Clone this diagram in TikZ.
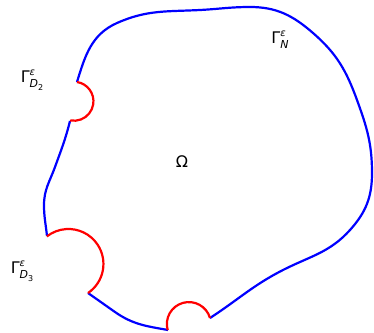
\documentclass[tikz,border=0pt]{standalone}
\usepackage{fontspec}
\setmainfont{DejaVu Sans}
\usepackage{tikz}

\newcommand{\gamlab}[2]{%
  \fontsize{16}{18}\selectfont Γ%
  \rlap{\raisebox{0.9ex}{\fontsize{10}{11}\selectfont\itshape ε}}%
  \raisebox{-0.55ex}{\fontsize{11}{12}\selectfont\itshape #1\raisebox{-0.45ex}{\fontsize{8}{9}\selectfont\upshape #2}}}

\begin{document}
\begin{tikzpicture}[x=1pt,y=-1pt,line width=2.2pt,line join=round]
\useasboundingbox (0,0) rectangle (374,332);

% end points of the holes
\coordinate (d2a) at (77,82);
\coordinate (d2b) at (70,121);
\coordinate (d3a) at (47,236);
\coordinate (d3b) at (88,293);
\coordinate (d1a) at (210,318);
\coordinate (d1b) at (168,330);

% Gamma_N
\draw[blue] (d2a) to[out=73,in=-156] (117,23) to[out=24,in=-177] (200,10)
  to[out=3,in=180] (250,7) to[out=0,in=139] (313,33)
  to[out=-41,in=110] (357,100) to[out=-70,in=90] (372,173)
  to[out=-90,in=48] (350,230) to[out=-132,in=27] (283,270)
  to[out=-153,in=33] (d1a);

\draw[blue] (d1b) to[out=-190,in=-35] (115,312) to[out=-215,in=-35] (d3b);

\draw[blue] (d3a) to[out=96,in=-90] (44,205) to[out=90,in=-110] (55,167)
  to[out=70,in=-104] (d2b);

% holes
\draw[red] (d2a) arc[start angle=-81,end angle=101,radius=19.5];
\draw[red] (d3b) arc[start angle=56,end angle=-128,radius=35];
\draw[red] (d1a) arc[start angle=-16,end angle=-196,radius=22];

% labels
\node (omega) at (182,162) {\fontsize{16}{18}\selectfont Ω};
\node (gn) at (280,41) {\gamlab{N}{}};
\node (gd2) at (32,80) {\gamlab{D}{2}};
\node (gd3) at (22,271) {\gamlab{D}{3}};

\end{tikzpicture}
\end{document}
